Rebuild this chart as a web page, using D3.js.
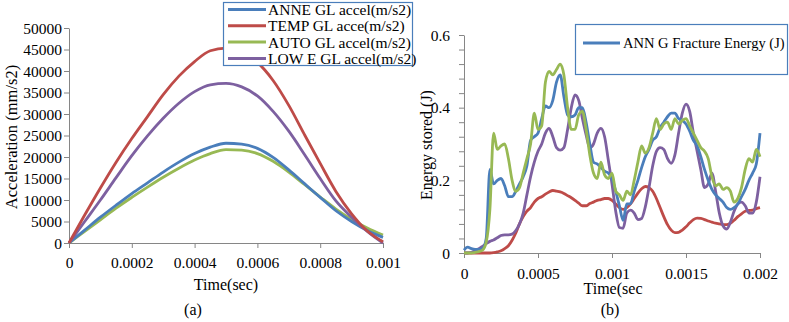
<!DOCTYPE html>
<html>
<head>
<meta charset="utf-8">
<script src="https://cdn.jsdelivr.net/npm/d3@7"></script>
<style>
  html, body { margin: 0; padding: 0; background: #fff; }
  svg { display: block; }
  text { font-family: "Liberation Serif", "Times New Roman", serif; fill: #000; }
</style>
</head>
<body>
<svg id="chart" width="789" height="322"></svg>
<script>
// ---------- Chart (a): acceleration ----------
const timeA = [0, 0.00005, 0.0001, 0.00015, 0.0002, 0.00025, 0.0003, 0.00035, 0.0004, 0.00045, 0.0005,
               0.00055, 0.0006, 0.00065, 0.0007, 0.00075, 0.0008, 0.00085, 0.0009, 0.00095, 0.001];
const anneAccel = [0, 3000, 6000, 8800, 11500, 14000, 16500, 18800, 20800, 22300, 23200,
                   23000, 22000, 19900, 17000, 13800, 10600, 7500, 5000, 2900, 1300];
const tempAccel = [0, 6500, 12800, 18800, 24300, 29400, 34500, 38800, 42200, 44700, 45300,
                   44500, 42000, 37800, 32000, 25200, 18500, 12000, 6800, 2800, 300];
const autoAccel = [0, 2700, 5400, 8100, 10600, 13000, 15300, 17400, 19300, 20800, 21700,
                   21600, 20800, 19000, 16500, 13600, 10700, 7900, 5500, 3500, 1860];
const lowEAccel = [0, 5000, 10000, 15200, 20300, 24900, 29000, 32500, 35200, 36800, 37100,
                   36300, 34200, 30600, 26000, 20600, 15000, 9800, 6000, 2700, 0];
const seriesA = ["ANNE GL accel(m/s2)", "TEMP GL acce(m/s2)", "AUTO GL accel(m/s2)", "LOW E GL accel(m/s2)"];
const ticksAx = [0, 0.0002, 0.0004, 0.0006, 0.0008, 0.001];
const ticksAxLabels = ["0", "0.0002", "0.0004", "0.0006", "0.0008", "0.001"];
const ticksAy = [0, 5000, 10000, 15000, 20000, 25000, 30000, 35000, 40000, 45000, 50000];

// ---------- Chart (b): energy ----------
const timeB = d3.range(81).map(i => +(i * 0.000025).toFixed(6));
const annEnergy = [0.008, 0.016, 0.012, 0.010, 0.010, 0.012, 0.04, 0.23, 0.19, 0.20,
  0.205, 0.185, 0.155, 0.155, 0.17, 0.19, 0.21, 0.24, 0.31, 0.32,
  0.33, 0.37, 0.405, 0.40, 0.42, 0.47, 0.49, 0.43, 0.38, 0.375,
  0.38, 0.40, 0.40, 0.36, 0.30, 0.25, 0.245, 0.235, 0.225, 0.22,
  0.205, 0.17, 0.13, 0.09, 0.135, 0.135, 0.17, 0.20, 0.235, 0.265,
  0.285, 0.31, 0.32, 0.345, 0.36, 0.375, 0.385, 0.385, 0.37, 0.365,
  0.355, 0.335, 0.31, 0.295, 0.265, 0.23, 0.20, 0.175, 0.16, 0.15,
  0.14, 0.125, 0.12, 0.125, 0.135, 0.155, 0.175, 0.2, 0.22, 0.245, 0.33];
const tempEnergy = [0, 0, 0, 0, 0, 0, 0, 0, 0.001, 0.003,
  0.006, 0.012, 0.02, 0.035, 0.055, 0.08, 0.1, 0.115, 0.125, 0.14,
  0.15, 0.155, 0.162, 0.168, 0.172, 0.17, 0.168, 0.164, 0.158, 0.152,
  0.145, 0.137, 0.13, 0.13, 0.136, 0.14, 0.145, 0.147, 0.15, 0.15,
  0.145, 0.135, 0.125, 0.12, 0.125, 0.135, 0.15, 0.165, 0.177, 0.183,
  0.18, 0.17, 0.15, 0.125, 0.1, 0.078, 0.063, 0.056, 0.057, 0.063,
  0.072, 0.083, 0.092, 0.096, 0.095, 0.092, 0.088, 0.085, 0.082, 0.08,
  0.078, 0.078, 0.082, 0.09, 0.1, 0.108, 0.115, 0.117, 0.118, 0.122, 0.125];
const autoEnergy = [0, 0, 0, 0.002, 0.004, 0.008, 0.03, 0.12, 0.33, 0.285,
  0.295, 0.30, 0.26, 0.20, 0.17, 0.18, 0.22, 0.26, 0.30, 0.385,
  0.34, 0.35, 0.47, 0.50, 0.49, 0.505, 0.52, 0.49, 0.40, 0.34,
  0.34, 0.38, 0.39, 0.34, 0.27, 0.22, 0.205, 0.25, 0.215, 0.205,
  0.22, 0.17, 0.16, 0.145, 0.17, 0.16, 0.2, 0.25, 0.295, 0.275,
  0.29, 0.33, 0.37, 0.34, 0.355, 0.36, 0.34, 0.37, 0.355, 0.365,
  0.37, 0.35, 0.33, 0.31, 0.29, 0.28, 0.26, 0.21, 0.185, 0.19,
  0.175, 0.18, 0.17, 0.14, 0.15, 0.18, 0.23, 0.26, 0.25, 0.285, 0.265];
const lowEEnergy = [0, 0, 0.002, 0.006, 0.012, 0.018, 0.026, 0.032, 0.036, 0.042,
  0.048, 0.05, 0.05, 0.052, 0.062, 0.08, 0.11, 0.16, 0.21, 0.25,
  0.28, 0.30, 0.33, 0.343, 0.32, 0.29, 0.283, 0.29, 0.34, 0.40,
  0.435, 0.42, 0.37, 0.325, 0.29, 0.30, 0.33, 0.343, 0.32, 0.256,
  0.19, 0.115, 0.07, 0.068, 0.11, 0.118, 0.11, 0.092, 0.095, 0.127,
  0.18, 0.24, 0.28, 0.29, 0.285, 0.26, 0.247, 0.27, 0.33, 0.385,
  0.41, 0.39, 0.33, 0.28, 0.23, 0.18, 0.19, 0.22, 0.17, 0.11,
  0.075, 0.066, 0.085, 0.115, 0.135, 0.14, 0.13, 0.11, 0.11, 0.14, 0.21];
const legendB = ["ANN G Fracture Energy (J)"];
const ticksBx = [0, 0.0005, 0.001, 0.0015, 0.002];
const ticksBxLabels = ["0", "0.0005", "0.001", "0.0015", "0.002"];
const ticksBy = d3.range(16).map(i => +(i * 0.04).toFixed(2));
const ticksByLabels = { "0": "0", "0.2": "0.2", "0.4": "0.4", "0.6": "0.6" };

const colors = ["#4a7ebb", "#be4b48", "#98b954", "#7d60a0"];
const axisColor = "#868686";

const svg = d3.select("#chart");

// ---------- draw chart (a) ----------
{
  const x = d3.scaleLinear().domain([0, 0.001]).range([69, 383]);
  const y = d3.scaleLinear().domain([0, 50000]).range([243, 28]);
  const g = svg.append("g");

  const xAxis = d3.axisBottom(x).tickValues(ticksAx).tickSize(5).tickSizeOuter(0)
    .tickFormat((d, i) => ticksAxLabels[i]);
  const gx = g.append("g").attr("transform", "translate(0,243)").call(xAxis);
  const yAxis = d3.axisLeft(y).tickValues(ticksAy).tickSize(5).tickSizeOuter(0).tickFormat(d => String(d));
  const gy = g.append("g").attr("transform", "translate(69,0)").call(yAxis);
  [gx, gy].forEach(a => {
    a.selectAll("path, line").attr("stroke", axisColor);
    a.selectAll("text").attr("font-family", "Liberation Serif").attr("font-size", 15.5).attr("fill", "#000");
  });
  gx.selectAll("text").attr("dy", 0).attr("y", 25);
  gy.selectAll("text").attr("x", -7).attr("dy", "0.34em");

  const data = [anneAccel, tempAccel, autoAccel, lowEAccel];
  const line = d3.line().x((d, i) => x(timeA[i])).y(d => y(d)).curve(d3.curveMonotoneX);
  [2, 0, 3, 1].forEach(k => {
    g.append("path").attr("d", line(data[k])).attr("fill", "none")
      .attr("stroke", colors[k]).attr("stroke-width", 2.8).attr("stroke-linejoin", "round");
  });

  g.append("text").attr("transform", "translate(17,137) rotate(-90)").attr("text-anchor", "middle")
    .attr("font-size", 16.5).text("Acceleration (mm/s2)");
  g.append("text").attr("x", 226).attr("y", 290).attr("text-anchor", "middle")
    .attr("font-size", 16).text("Time(sec)");
  g.append("text").attr("x", 193).attr("y", 315).attr("text-anchor", "middle")
    .attr("font-size", 16).text("(a)");

  const lg = g.append("g");
  lg.append("rect").attr("x", 223.5).attr("y", 2.5).attr("width", 189).attr("height", 63)
    .attr("fill", "#fff").attr("stroke", "#4a7ebb").attr("stroke-width", 1.2);
  seriesA.forEach((name, i) => {
    const yy = 9.5 + i * 16.3;
    lg.append("line").attr("x1", 228).attr("x2", 266).attr("y1", yy).attr("y2", yy)
      .attr("stroke", colors[i]).attr("stroke-width", 3);
    lg.append("text").attr("x", 268).attr("y", yy).attr("dy", "0.35em").attr("font-size", 15.5).text(name);
  });
}

// ---------- draw chart (b) ----------
{
  const x = d3.scaleLinear().domain([0, 0.002]).range([464, 760]);
  const y = d3.scaleLinear().domain([0, 0.6]).range([253, 35]);
  const g = svg.append("g");

  const xAxis = d3.axisBottom(x).tickValues(ticksBx).tickSize(5).tickSizeOuter(0)
    .tickFormat((d, i) => ticksBxLabels[i]);
  const gx = g.append("g").attr("transform", "translate(0,253)").call(xAxis);
  const yAxis = d3.axisLeft(y).tickValues(ticksBy).tickSize(5).tickSizeOuter(0)
    .tickFormat(d => ticksByLabels[String(d)] || "");
  const gy = g.append("g").attr("transform", "translate(464,0)").call(yAxis);
  [gx, gy].forEach(a => {
    a.selectAll("path, line").attr("stroke", axisColor);
    a.selectAll("text").attr("font-family", "Liberation Serif").attr("font-size", 15.5).attr("fill", "#000");
  });
  gx.selectAll("text").attr("dy", 0).attr("y", 25.5);
  gy.selectAll("text").attr("x", -14).attr("dy", "0.34em");

  const data = [annEnergy, tempEnergy, autoEnergy, lowEEnergy];
  const line = d3.line().x((d, i) => x(timeB[i])).y(d => y(d)).curve(d3.curveMonotoneX);
  [1, 3, 0, 2].forEach(k => {
    g.append("path").attr("d", line(data[k])).attr("fill", "none")
      .attr("stroke", colors[k]).attr("stroke-width", 2.8).attr("stroke-linejoin", "round");
  });

  g.append("text").attr("transform", "translate(432,145) rotate(-90)").attr("text-anchor", "middle")
    .attr("font-size", 16).text("Energy stored (J)");
  g.append("text").attr("x", 613).attr("y", 294).attr("text-anchor", "middle")
    .attr("font-size", 16).text("Time(sec");
  g.append("text").attr("x", 610).attr("y", 315).attr("text-anchor", "middle")
    .attr("font-size", 16).text("(b)");

  const lg = g.append("g");
  lg.append("rect").attr("x", 575.5).attr("y", 24.5).attr("width", 212).attr("height", 50)
    .attr("fill", "#fff").attr("stroke", "#4a7ebb").attr("stroke-width", 1.2);
  lg.append("line").attr("x1", 583).attr("x2", 620).attr("y1", 43).attr("y2", 43)
    .attr("stroke", colors[0]).attr("stroke-width", 3);
  lg.append("text").attr("x", 623).attr("y", 43).attr("dy", "0.35em").attr("font-size", 14.5).text(legendB[0]);
}
</script>
</body>
</html>
